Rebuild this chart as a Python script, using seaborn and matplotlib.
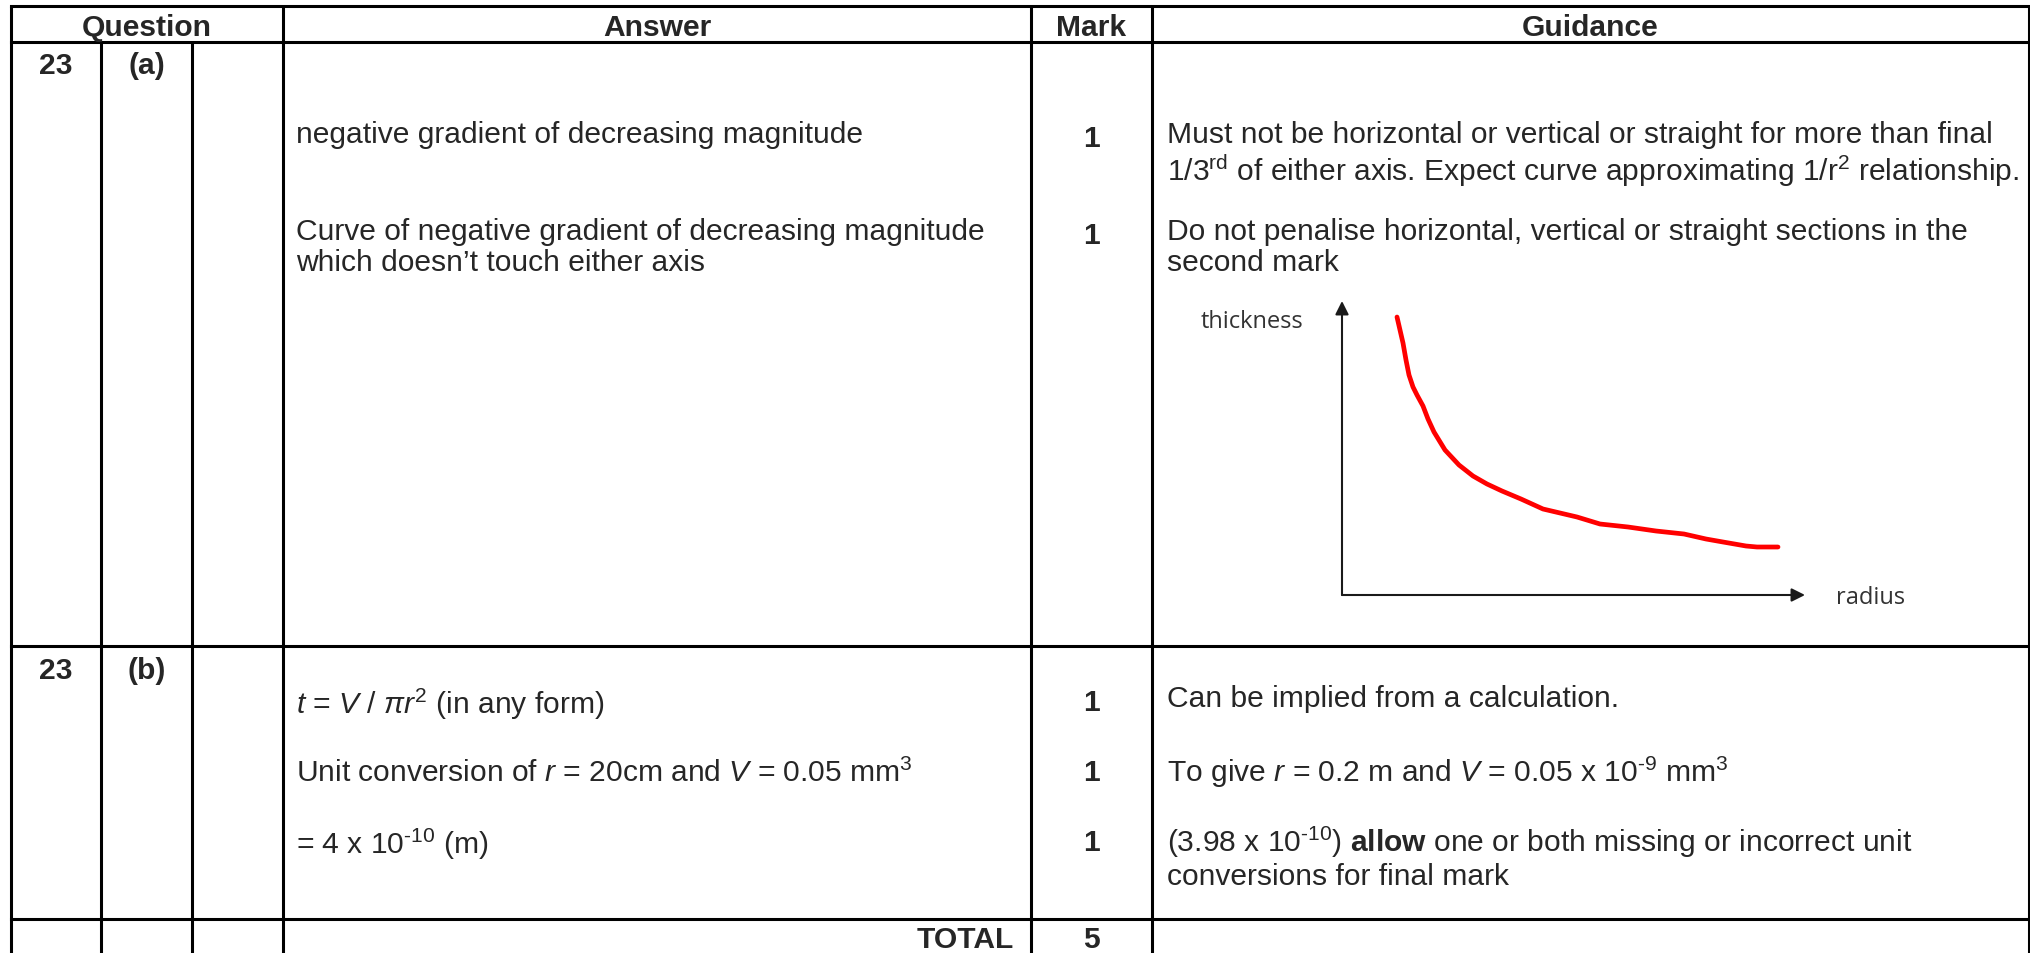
import matplotlib
matplotlib.use("Agg")
import matplotlib.pyplot as plt
import seaborn as sns

# --- data ---------------------------------------------------------------
# sketched curve in the guidance cell (arbitrary units)
radius = [55, 58, 61, 64, 67, 71, 75, 81, 86, 92, 103, 117, 131, 145, 160,
          179, 201, 235, 258, 286, 314, 342, 364, 381, 404, 415, 436]
thickness = [278, 265, 252, 235, 220, 208, 200, 189, 176, 163, 145, 130, 119,
             111, 104, 96, 86, 78, 71, 68, 64, 61, 56, 53, 49, 48, 48]

headers = ["Question", "Answer", "Mark", "Guidance"]
question = ["23", "23"]
parts = ["(a)", "(b)"]
answers_a = ["negative gradient of decreasing magnitude",
             "Curve of negative gradient of decreasing magnitude\nwhich doesn\u2019t touch either axis"]
answers_b = [r"$\mathit{t}$ = $\mathit{V}$ / $\mathit{\pi r}^{2}$ (in any form)",
             r"Unit conversion of $\mathit{r}$ = 20cm and $\mathit{V}$ = 0.05 mm$^{3}$",
             "= 4 x 10$^{\u201010}$ (m)"]
marks_a = ["1", "1"]
marks_b = ["1", "1", "1"]
guidance_a = ["Must not be horizontal or vertical or straight for more than final\n"
              r"1/3$^{\mathrm{rd}}$ of either axis. Expect curve approximating 1/r$^{2}$ relationship.",
              "Do not penalise horizontal, vertical or straight sections in the\nsecond mark"]
guidance_b = ["Can be implied from a calculation.",
              "To give $\\mathit{r}$ = 0.2 m and $\\mathit{V}$ = 0.05 x 10$^{\u20109}$ mm$^{3}$",
              "(3.98 x 10$^{\u201010}$) $\\mathbf{allow}$ one or both missing or incorrect unit\n"
              "conversions for final mark"]
total_label, total_mark = "TOTAL", "5"

# --- layout (pixels) ----------------------------------------------------
W, H = 2031, 954
col_x = [11, 101, 192, 283, 1031, 1152, 2029]
row_y = [7, 43, 647, 920]
rows_a = [136, 233]
rows_b = [700, 770, 840]

sns.set_theme(style="white")
plt.rcParams["font.family"] = ["Liberation Sans", "DejaVu Sans"]
plt.rcParams["mathtext.fontset"] = "custom"
plt.rcParams["mathtext.rm"] = "Liberation Sans"
plt.rcParams["mathtext.it"] = "Liberation Sans:italic"
plt.rcParams["mathtext.bf"] = "Liberation Sans:bold"

fig = plt.figure(figsize=(W / 100, H / 100), dpi=100)
ax = fig.add_axes([0, 0, 1, 1])
ax.set_xlim(0, W)
ax.set_ylim(H, 0)
ax.axis("off")

lw = 2.2
for y in row_y:
    ax.plot([col_x[0], col_x[-1]], [y, y], color="black", lw=lw, solid_capstyle="projecting")
for i, x in enumerate(col_x):
    top = row_y[1] if i in (1, 2) else row_y[0]
    ax.plot([x, x], [top, H], color="black", lw=lw)

fs = 21.6
va = "center_baseline"
hx = [(col_x[0] + col_x[3]) / 2, (col_x[3] + col_x[4]) / 2,
      (col_x[4] + col_x[5]) / 2, (col_x[5] + col_x[6]) / 2]
for x, h in zip(hx, headers):
    ax.text(x, 25, h, ha="center", va=va, fontsize=fs, fontweight="bold")

qx = (col_x[0] + col_x[1]) / 2
px = (col_x[1] + col_x[2]) / 2
mx = (col_x[4] + col_x[5]) / 2
tx = 296
gx = 1167
off = 15  # top of first line above its centre

# part (a)
ax.text(qx, 63, question[0], ha="center", va=va, fontsize=fs, fontweight="bold")
ax.text(px, 63, parts[0], ha="center", va=va, fontsize=fs, fontweight="bold")
for y, a, m, g in zip(rows_a, answers_a, marks_a, guidance_a):
    ax.text(tx, y - off, a, ha="left", va="top", fontsize=fs, linespacing=1.12)
    ax.text(mx, y, m, ha="center", va=va, fontsize=fs, fontweight="bold")
    ax.text(gx, y - off, g, ha="left", va="top", fontsize=fs, linespacing=1.12)

# part (b)
ax.text(qx, 668, question[1], ha="center", va=va, fontsize=fs, fontweight="bold")
ax.text(px, 668, parts[1], ha="center", va=va, fontsize=fs, fontweight="bold")
for y, a, m, g in zip(rows_b, answers_b, marks_b, guidance_b):
    ax.text(tx, y, a, ha="left", va=va, fontsize=fs)
    ax.text(mx, y, m, ha="center", va=va, fontsize=fs, fontweight="bold")
    ax.text(gx, y - off, g, ha="left", va="top", fontsize=fs, linespacing=1.12)

ax.text(1014, 937, total_label, ha="right", va=va, fontsize=fs, fontweight="bold")
ax.text(mx, 937, total_mark, ha="center", va=va, fontsize=fs, fontweight="bold")

# --- sketch graph in guidance cell --------------------------------------
x0, x1, y_top, y_bot = 1342, 1805, 302, 596
ins = fig.add_axes([x0 / W, (H - y_bot) / H, (x1 - x0) / W, (y_bot - y_top) / H])
ins.set_xlim(0, x1 - x0)
ins.set_ylim(0, y_bot - y_top)
ins.axis("off")
sns.lineplot(x=radius, y=thickness, sort=False, color="#ff0000", lw=3.4, ax=ins)
arrow = dict(arrowstyle="-|>", color="#1a1a1a", lw=1.5, mutation_scale=20,
             shrinkA=0, shrinkB=0)
ins.annotate("", xy=(1, 0), xytext=(0, 0), xycoords="axes fraction", arrowprops=arrow)
ins.annotate("", xy=(0, 1), xytext=(0, 0), xycoords="axes fraction", arrowprops=arrow)

lab_font = ["Open Sans", "DejaVu Sans"]
ax.text(1303, 322, "thickness", ha="right", va="center", fontsize=17,
        family=lab_font, color="#333333")
ax.text(1836, 598, "radius", ha="left", va="center", fontsize=17,
        family=lab_font, color="#333333")

fig.savefig("out.png", dpi=100)
